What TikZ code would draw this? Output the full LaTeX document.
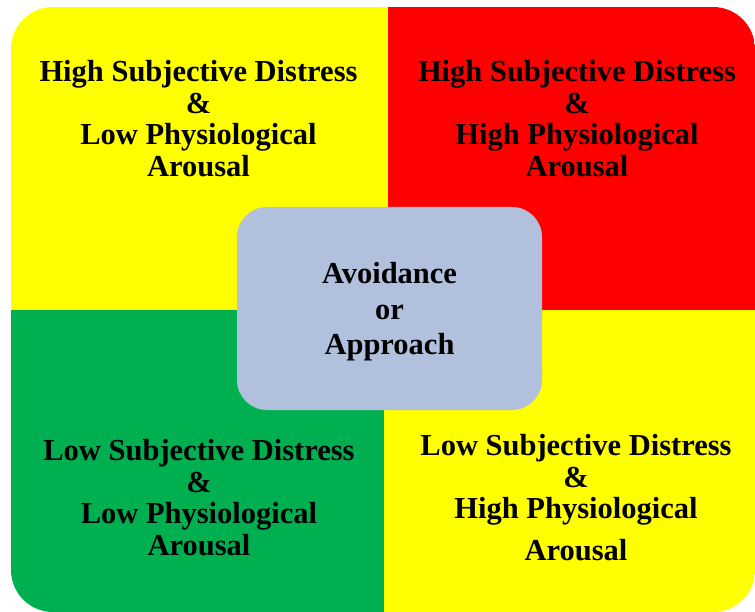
\documentclass[tikz,border=0pt]{standalone}
\usepackage{fontspec}
\setmainfont{Liberation Serif}
\usepackage{xcolor}
\usepackage{tikz}
\usetikzlibrary{positioning}
\definecolor{quadyellow}{RGB}{255, 255, 0}
\definecolor{quadred}{RGB}{255, 0, 0}
\definecolor{quadgreen}{RGB}{0, 176, 80}
\definecolor{hubblue}{RGB}{177, 193, 221}

\begin{document}
\begin{tikzpicture}[
    x=1pt, y=-1pt,
    quadtext/.style={anchor=base, align=center, inner sep=0pt, font=\bfseries\fontsize{30.5}{31.5}\selectfont},
    hubbox/.style={rectangle, rounded corners=30pt, fill=hubblue, minimum width=305pt, minimum height=203pt, inner sep=0pt},
    hubtext/.style={anchor=base, align=center, inner sep=0pt, font=\bfseries\fontsize{30.5}{35.5}\selectfont}
]
% Page frame
\useasboundingbox (0,0) rectangle (755,612);
\fill[white] (0,0) rectangle (755,612);

% Four quadrants inside the rounded frame
\begin{scope}
    \clip[rounded corners=42pt] (11,7) rectangle (755,612);
    \fill[quadyellow] (11,7) rectangle (388,310);
    \fill[quadred] (388,7) rectangle (755,310);
    \fill[quadgreen] (11,310) rectangle (384,612);
    \fill[quadyellow] (384,310) rectangle (755,612);
\end{scope}

% Quadrant labels (anchored at the last baseline)
\node[quadtext] (hsdlpa) at (198.5,176.5) {High Subjective Distress\\\&\\Low Physiological\\Arousal};
\node[quadtext] (hsdhpa) at (577,176.5) {High Subjective Distress\\\&\\High Physiological\\Arousal};
\node[quadtext] (lsdlpa) at (199,555) {Low Subjective Distress\\\&\\Low Physiological\\Arousal};
\node[quadtext] (lsdhpa) at (576,560) {Low Subjective Distress\\\&\\High Physiological\\[10pt]Arousal};

% Central box
\node[hubbox] (hub) at (389.5,308.5) {};
\node[hubtext] (choice) at (389.5,355) {Avoidance\\or\\Approach};

\end{tikzpicture}
\end{document}
